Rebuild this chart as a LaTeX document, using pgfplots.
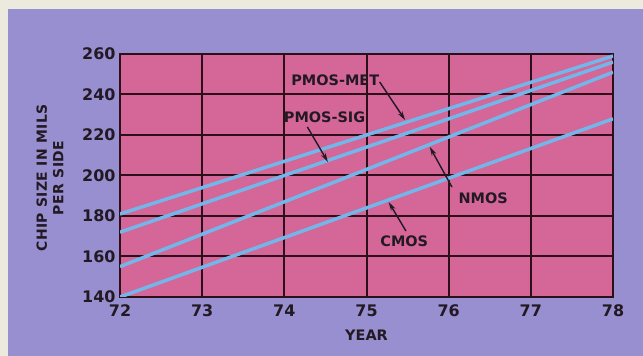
\documentclass[border=0pt]{standalone}
\usepackage{fontspec}
\setmainfont{DejaVu Sans}
\newfontfamily\lblfont[LetterSpace=3]{DejaVu Sans}
\usepackage{pgfplots}
\pgfplotsset{compat=1.18}
\usetikzlibrary{arrows.meta}

\definecolor{cream}{RGB}{236,233,222}
\definecolor{bgpurple}{RGB}{152,143,208}
\definecolor{chartpink}{RGB}{212,102,152}
\definecolor{linblue}{RGB}{115,182,234}
\definecolor{gridc}{RGB}{45,15,25}
\definecolor{inkc}{RGB}{35,25,35}

\begin{document}
\begin{tikzpicture}
  \fill[cream] (0bp,0bp) rectangle (643bp,356bp);
  \fill[bgpurple] (8bp,0bp) rectangle (643bp,347bp);
  \begin{axis}[
    at={(120bp,59bp)}, anchor=south west,
    scale only axis, width=493bp, height=243bp,
    xmin=72, xmax=78, ymin=140, ymax=260,
    xtick={72,...,78}, ytick={140,160,...,260},
    grid=major,
    major grid style={draw=gridc, line width=2bp},
    axis line style={draw=gridc, line width=2.4bp},
    axis background/.style={fill=chartpink},
    tick style={draw=none},
    /pgf/number format/assume math mode=true,
    ticklabel style={font=\bfseries\fontsize{16}{16}\selectfont, text=inkc},
    xticklabel style={yshift=-4bp},
    yticklabel style={xshift=-1bp},
    xlabel={YEAR},
    xlabel style={font=\bfseries\fontsize{14.5}{16}\selectfont, text=inkc,
      at={(axis description cs:0.5,0)}, anchor=center, yshift=-38bp},
    ylabel={CHIP SIZE IN MILS\\PER SIDE},
    ylabel style={align=center, font=\lblfont\bfseries\fontsize{14}{16.5}\selectfont,
      text=inkc, at={(axis description cs:-0.142,0.49)}, anchor=center},
  ]
    % PMOS-MET
    \addplot[linblue, line width=3.5bp] coordinates {(72,181) (78,259)};
    % PMOS-SIG
    \addplot[linblue, line width=3.5bp] coordinates {(72,172) (78,256)};
    % NMOS
    \addplot[linblue, line width=3.5bp] coordinates {(72,155) (78,251)};
    % CMOS
    \addplot[linblue, line width=3.5bp] coordinates {(72,140) (78,228)};

    \begin{scope}[every node/.style={font=\bfseries\fontsize{14.5}{16}\selectfont, text=inkc},
                  ann/.style={-{Stealth[length=9bp,width=5bp]}, line width=1.4bp, inkc}]
      \node at (axis cs:74.62,247.2) {PMOS-MET};
      \draw[ann] (axis cs:75.16,246.2) -- (axis cs:75.47,227.4);
      \node at (axis cs:74.49,228.9) {PMOS-SIG};
      \draw[ann] (axis cs:74.28,224.0) -- (axis cs:74.53,206.7);
      \node at (axis cs:76.42,188.9) {NMOS};
      \draw[ann] (axis cs:76.04,194.3) -- (axis cs:75.77,214.1);
      \node at (axis cs:75.46,167.7) {CMOS};
      \draw[ann] (axis cs:75.48,172.6) -- (axis cs:75.27,186.9);
    \end{scope}
  \end{axis}
\end{tikzpicture}
\end{document}
